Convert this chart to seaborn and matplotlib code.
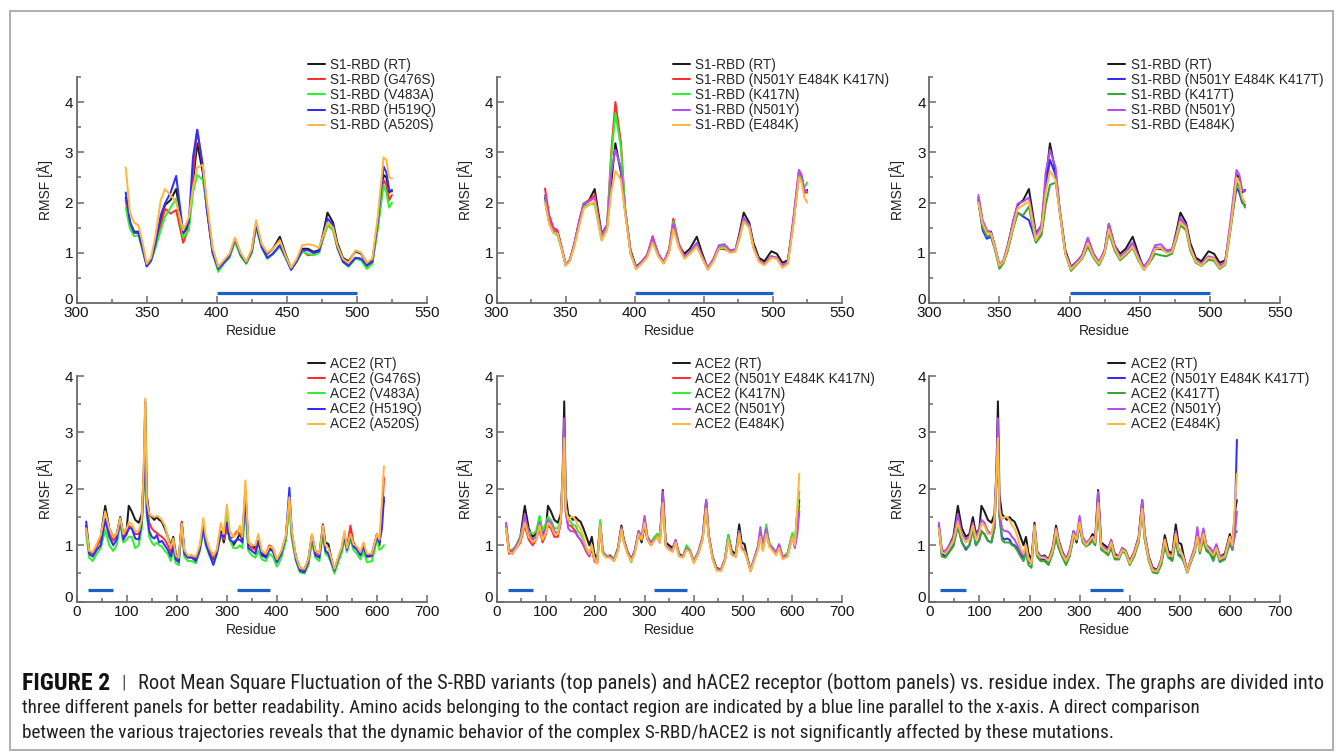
import numpy as np
import pandas as pd
import matplotlib
matplotlib.use("Agg")
import matplotlib.pyplot as plt
from matplotlib.patches import Rectangle
from matplotlib.ticker import MultipleLocator
from matplotlib import font_manager
import matplotlib.transforms as mtransforms
import seaborn as sns

# ---------------- DATA ----------------
X_TOP = [335, 338, 341, 344, 347, 350, 353, 356, 360, 363,
         367, 371, 376, 380, 383, 386, 390, 393, 397, 401,
         405, 409, 413, 417, 421, 425, 428, 432, 436, 440,
         445, 449, 453, 457, 461, 465, 469, 473, 476, 479,
         483, 486, 490, 494, 499, 503, 507, 511, 515, 519,
         521, 523, 525]

TOP_RT = [2.10, 1.60, 1.42, 1.42, 1.10, 0.75, 0.85, 1.15, 1.65, 1.95,
          2.05, 2.27, 1.38, 1.55, 2.40, 3.18, 2.60, 1.85, 1.05, 0.72,
          0.82, 0.95, 1.27, 0.98, 0.80, 1.05, 1.57, 1.15, 0.98, 1.08,
          1.32, 0.98, 0.68, 0.85, 1.08, 1.08, 1.02, 1.05, 1.40, 1.80,
          1.60, 1.20, 0.90, 0.83, 1.03, 0.98, 0.80, 0.85, 1.60, 2.55,
          2.50, 2.20, 2.25]
TOP_G476S = [2.05, 1.58, 1.40, 1.40, 1.08, 0.74, 0.84, 1.12, 1.55, 1.88,
             1.78, 1.85, 1.20, 1.50, 2.55, 3.45, 2.75, 1.85, 1.00, 0.70,
             0.80, 0.92, 1.25, 0.95, 0.80, 1.02, 1.55, 1.12, 0.90, 0.98,
             1.15, 0.92, 0.68, 0.85, 1.05, 0.95, 0.97, 1.02, 1.30, 1.55,
             1.45, 1.10, 0.85, 0.75, 0.90, 0.88, 0.72, 0.80, 1.55, 2.45,
             2.35, 2.05, 2.15]
TOP_V483A = [1.90, 1.48, 1.33, 1.35, 1.05, 0.73, 0.83, 1.08, 1.45, 1.72,
             1.90, 2.08, 1.30, 1.45, 2.20, 2.55, 2.45, 1.90, 1.00, 0.62,
             0.78, 0.90, 1.22, 0.93, 0.78, 1.00, 1.50, 1.10, 0.88, 0.97,
             1.12, 0.90, 0.66, 0.82, 1.02, 0.98, 0.95, 1.00, 1.30, 1.55,
             1.45, 1.10, 0.82, 0.72, 0.88, 0.85, 0.68, 0.78, 1.50, 2.35,
             2.20, 1.90, 2.00]
TOP_H519Q = [2.20, 1.62, 1.40, 1.40, 1.08, 0.73, 0.84, 1.15, 1.75, 1.98,
             2.20, 2.53, 1.40, 1.60, 2.90, 3.45, 2.70, 1.85, 1.00, 0.68,
             0.80, 0.93, 1.27, 0.96, 0.80, 1.03, 1.55, 1.12, 0.90, 0.98,
             1.15, 0.92, 0.66, 0.83, 1.05, 1.05, 1.00, 1.03, 1.35, 1.68,
             1.55, 1.12, 0.82, 0.74, 0.90, 0.88, 0.75, 0.82, 1.65, 2.72,
             2.60, 2.25, 2.22]
TOP_A520S = [2.70, 1.80, 1.60, 1.55, 1.20, 0.78, 0.90, 1.30, 2.05, 2.27,
             2.15, 2.00, 1.45, 1.70, 2.30, 2.70, 2.75, 2.00, 1.10, 0.72,
             0.85, 0.98, 1.30, 1.00, 0.82, 1.08, 1.65, 1.18, 1.00, 1.08,
             1.25, 0.95, 0.70, 0.88, 1.15, 1.17, 1.15, 1.10, 1.35, 1.60,
             1.50, 1.15, 0.88, 0.80, 1.05, 1.00, 0.80, 0.88, 1.75, 2.90,
             2.85, 2.50, 2.48]
TOP_TRIPLE_N = [2.28, 1.75, 1.50, 1.45, 1.12, 0.76, 0.86, 1.15, 1.65, 1.98,
                2.05, 2.15, 1.35, 1.55, 3.00, 4.00, 3.20, 1.90, 1.00, 0.68,
                0.82, 0.95, 1.33, 0.98, 0.80, 1.08, 1.68, 1.18, 0.92, 1.00,
                1.18, 0.92, 0.68, 0.85, 1.10, 1.12, 1.02, 1.05, 1.30, 1.68,
                1.52, 1.12, 0.85, 0.78, 0.93, 0.90, 0.72, 0.82, 1.65, 2.62,
                2.50, 2.20, 2.20]
TOP_K417N = [2.05, 1.60, 1.40, 1.35, 1.08, 0.76, 0.85, 1.12, 1.60, 1.92,
             1.97, 1.97, 1.25, 1.50, 2.90, 3.78, 3.10, 1.90, 1.00, 0.68,
             0.80, 0.93, 1.28, 0.96, 0.80, 1.05, 1.62, 1.15, 0.90, 0.98,
             1.15, 0.90, 0.68, 0.85, 1.12, 1.15, 1.05, 1.05, 1.30, 1.65,
             1.55, 1.12, 0.85, 0.76, 0.92, 0.88, 0.72, 0.80, 1.60, 2.55,
             2.45, 2.30, 2.40]
TOP_N501Y = [2.15, 1.65, 1.45, 1.40, 1.10, 0.76, 0.86, 1.15, 1.65, 1.98,
             2.02, 2.10, 1.35, 1.55, 2.60, 3.05, 2.70, 1.85, 1.00, 0.70,
             0.82, 0.95, 1.30, 0.98, 0.82, 1.05, 1.58, 1.15, 0.92, 1.02,
             1.20, 0.92, 0.70, 0.88, 1.15, 1.17, 1.05, 1.07, 1.35, 1.70,
             1.55, 1.12, 0.85, 0.78, 0.93, 0.90, 0.75, 0.82, 1.70, 2.65,
             2.55, 2.25, 2.22]
TOP_E484K = [2.00, 1.58, 1.40, 1.38, 1.08, 0.74, 0.83, 1.10, 1.55, 1.88,
             1.95, 2.02, 1.25, 1.45, 2.20, 2.63, 2.45, 1.80, 0.98, 0.67,
             0.78, 0.90, 1.20, 0.93, 0.78, 1.00, 1.47, 1.10, 0.88, 0.98,
             1.12, 0.88, 0.66, 0.82, 1.08, 1.10, 1.00, 1.02, 1.30, 1.62,
             1.50, 1.10, 0.82, 0.75, 0.90, 0.88, 0.70, 0.78, 1.55, 2.50,
             2.40, 2.10, 2.00]
TOP_TRIPLE_T = [2.05, 1.45, 1.28, 1.32, 1.05, 0.72, 0.82, 1.08, 1.55, 1.80,
                1.72, 1.65, 1.22, 1.45, 2.30, 2.85, 2.55, 1.80, 0.98, 0.66,
                0.80, 0.92, 1.28, 0.95, 0.80, 1.03, 1.45, 1.10, 0.88, 1.00,
                1.20, 0.92, 0.72, 0.86, 1.10, 1.10, 1.03, 1.05, 1.30, 1.65,
                1.50, 1.10, 0.82, 0.78, 0.90, 0.88, 0.72, 0.80, 1.55, 2.30,
                2.20, 2.00, 1.95]
TOP_K417T = [2.00, 1.50, 1.33, 1.35, 1.05, 0.68, 0.80, 1.05, 1.50, 1.78,
             1.75, 1.92, 1.20, 1.35, 1.95, 2.35, 2.40, 1.85, 1.00, 0.64,
             0.76, 0.88, 1.12, 0.90, 0.75, 0.98, 1.40, 1.05, 0.85, 0.95,
             1.10, 0.85, 0.66, 0.80, 0.98, 0.95, 0.93, 0.98, 1.25, 1.55,
             1.45, 1.05, 0.80, 0.74, 0.86, 0.84, 0.68, 0.76, 1.50, 2.40,
             2.30, 2.05, 1.90]

X_BOT = [19, 25, 32, 40, 48, 57, 65, 73, 80, 87,
         93, 100, 104, 110, 117, 124, 130, 134, 137, 140,
         145, 150, 155, 160, 165, 170, 176, 182, 188, 193,
         198, 204, 210, 215, 222, 230, 238, 246, 253, 258,
         265, 273, 280, 288, 294, 300, 306, 313, 320, 326,
         331, 337, 343, 350, 357, 363, 370, 378, 385, 392,
         400, 409, 418, 425, 430, 438, 446, 455, 463, 470,
         477, 485, 492, 497, 503, 508, 515, 522, 530, 535,
         540, 547, 553, 560, 567, 573, 580, 590, 600, 605,
         610, 614]

BOT_RT = [1.35, 0.90, 0.85, 1.00, 1.15, 1.70, 1.30, 1.15, 1.20, 1.50,
          1.20, 1.30, 1.70, 1.60, 1.45, 1.40, 1.55, 2.30, 3.55, 1.90,
          1.55, 1.50, 1.45, 1.50, 1.45, 1.42, 1.30, 1.15, 1.00, 1.15,
          0.85, 0.75, 1.40, 0.90, 0.80, 0.82, 0.75, 0.95, 1.35, 1.10,
          0.90, 0.75, 0.90, 1.25, 1.05, 1.35, 1.10, 1.00, 1.10, 1.20,
          1.10, 1.98, 1.05, 1.00, 0.95, 1.08, 0.85, 0.80, 0.95, 0.90,
          0.72, 0.88, 1.15, 1.80, 1.20, 0.80, 0.60, 0.57, 0.75, 1.18,
          0.90, 0.85, 1.37, 1.05, 1.02, 0.80, 0.55, 0.75, 0.95, 1.20,
          0.95, 1.25, 1.00, 0.95, 0.85, 1.00, 0.80, 0.85, 1.20, 1.00,
          1.60, 1.80]
BOT_G476S = [1.25, 0.88, 0.85, 0.98, 1.10, 1.42, 1.20, 1.08, 1.15, 1.45,
             1.15, 1.25, 1.35, 1.30, 1.20, 1.20, 1.40, 2.20, 3.00, 1.70,
             1.40, 1.30, 1.25, 1.22, 1.18, 1.15, 1.10, 1.00, 0.88, 1.05,
             0.80, 0.75, 1.42, 0.90, 0.80, 0.80, 0.78, 0.95, 1.30, 1.05,
             0.88, 0.78, 0.88, 1.20, 1.10, 1.30, 1.12, 1.15, 1.25, 1.20,
             1.15, 1.85, 1.00, 0.95, 0.92, 1.05, 0.88, 0.85, 1.00, 0.95,
             0.72, 0.88, 1.12, 1.75, 1.15, 0.78, 0.58, 0.55, 0.72, 1.15,
             0.85, 0.82, 1.25, 0.90, 0.85, 0.75, 0.55, 0.75, 0.95, 1.10,
             0.95, 1.35, 1.05, 0.95, 0.85, 0.95, 0.80, 0.80, 1.15, 1.05,
             1.50, 2.20]
BOT_V483A = [1.20, 0.78, 0.72, 0.85, 0.95, 1.27, 1.00, 0.90, 1.00, 1.40,
             1.05, 1.10, 1.15, 1.15, 0.95, 1.00, 1.30, 2.00, 3.00, 1.55,
             1.15, 1.05, 1.00, 1.05, 1.00, 0.98, 0.90, 0.85, 0.72, 0.90,
             0.68, 0.65, 1.30, 0.80, 0.72, 0.72, 0.68, 0.90, 1.25, 1.00,
             0.82, 0.68, 0.85, 1.20, 1.15, 1.55, 1.10, 0.95, 0.95, 1.00,
             0.95, 1.65, 0.90, 0.82, 0.78, 0.90, 0.75, 0.72, 0.85, 0.80,
             0.62, 0.78, 1.08, 1.70, 1.10, 0.72, 0.52, 0.50, 0.65, 1.05,
             0.78, 0.72, 1.20, 0.85, 0.80, 0.70, 0.50, 0.68, 0.88, 1.10,
             0.88, 1.10, 0.92, 0.85, 0.75, 0.90, 0.70, 0.72, 1.10, 0.92,
             0.95, 1.00]
BOT_H519Q = [1.42, 0.85, 0.80, 0.92, 1.00, 1.47, 1.15, 1.00, 1.10, 1.45,
             1.10, 1.20, 1.30, 1.30, 1.12, 1.10, 1.40, 2.10, 2.90, 1.60,
             1.25, 1.15, 1.12, 1.18, 1.05, 1.08, 1.00, 0.92, 0.80, 0.98,
             0.75, 0.70, 1.38, 0.85, 0.78, 0.78, 0.72, 0.92, 1.30, 1.02,
             0.85, 0.65, 0.85, 1.20, 1.15, 1.40, 1.10, 1.05, 1.10, 1.10,
             1.05, 1.85, 0.95, 0.90, 0.85, 1.05, 0.82, 0.78, 0.92, 0.90,
             0.70, 0.85, 1.15, 2.02, 1.20, 0.75, 0.55, 0.52, 0.70, 1.15,
             0.82, 0.78, 1.30, 0.90, 0.85, 0.72, 0.55, 0.75, 0.95, 1.15,
             0.92, 1.15, 0.98, 0.92, 0.82, 0.98, 0.80, 0.82, 1.15, 1.05,
             1.30, 1.85]
BOT_A520S = [1.30, 0.90, 0.88, 1.02, 1.18, 1.60, 1.30, 1.15, 1.20, 1.48,
             1.20, 1.30, 1.40, 1.38, 1.25, 1.25, 1.45, 2.40, 3.60, 1.80,
             1.55, 1.52, 1.50, 1.52, 1.50, 1.45, 1.35, 1.15, 0.95, 1.12,
             0.82, 0.78, 1.38, 0.92, 0.82, 0.82, 0.80, 1.00, 1.48, 1.15,
             0.95, 0.82, 0.92, 1.40, 1.20, 1.72, 1.25, 1.15, 1.20, 1.35,
             1.15, 2.15, 1.05, 1.00, 1.00, 1.20, 0.90, 0.85, 0.98, 0.95,
             0.75, 0.90, 1.18, 1.85, 1.25, 0.80, 0.60, 0.58, 0.75, 1.20,
             0.90, 0.85, 1.35, 1.00, 0.95, 0.80, 0.58, 0.78, 0.98, 1.25,
             0.95, 1.20, 1.02, 0.98, 0.88, 1.05, 0.85, 0.85, 1.20, 1.10,
             1.80, 2.40]
BOT_TRIPLE_N = [1.30, 0.85, 0.88, 0.95, 1.05, 1.35, 1.10, 1.00, 1.10, 1.30,
                1.05, 1.20, 1.35, 1.30, 1.15, 1.15, 1.40, 2.20, 3.00, 1.60,
                1.35, 1.35, 1.30, 1.25, 1.15, 1.10, 1.00, 0.88, 0.80, 0.95,
                0.72, 0.68, 1.35, 0.88, 0.80, 0.80, 0.72, 0.92, 1.32, 1.08,
                0.88, 0.75, 0.88, 1.20, 1.10, 1.35, 1.10, 1.02, 1.10, 1.18,
                1.05, 1.80, 1.00, 0.92, 0.90, 1.05, 0.82, 0.80, 0.95, 0.90,
                0.70, 0.85, 1.12, 1.72, 1.15, 0.78, 0.58, 0.55, 0.72, 1.12,
                0.85, 0.80, 1.20, 0.95, 0.92, 0.78, 0.55, 0.75, 0.95, 1.20,
                0.92, 1.30, 1.02, 0.92, 0.85, 0.98, 0.78, 0.82, 1.18, 1.00,
                1.45, 1.70]
BOT_K417N = [1.35, 0.92, 0.92, 1.00, 1.15, 1.45, 1.25, 1.20, 1.25, 1.52,
             1.25, 1.40, 1.50, 1.45, 1.30, 1.30, 1.45, 2.20, 3.00, 1.70,
             1.45, 1.42, 1.35, 1.35, 1.25, 1.20, 1.10, 0.95, 0.85, 1.00,
             0.78, 0.75, 1.45, 0.90, 0.82, 0.80, 0.75, 0.92, 1.30, 1.05,
             0.88, 0.70, 0.88, 1.25, 1.15, 1.45, 1.15, 1.05, 1.15, 1.20,
             1.10, 1.75, 1.00, 0.95, 0.92, 1.05, 0.82, 0.80, 1.00, 0.92,
             0.72, 0.88, 1.15, 1.72, 1.18, 0.78, 0.58, 0.56, 0.75, 1.18,
             0.85, 0.82, 1.25, 0.95, 0.90, 0.78, 0.55, 0.75, 0.98, 1.25,
             1.00, 1.37, 1.05, 0.95, 0.85, 1.00, 0.80, 0.85, 1.22, 1.05,
             1.60, 1.95]
BOT_N501Y = [1.40, 0.92, 0.90, 1.00, 1.12, 1.55, 1.20, 1.10, 1.15, 1.40,
             1.15, 1.30, 1.45, 1.40, 1.25, 1.20, 1.40, 2.30, 3.25, 1.60,
             1.30, 1.25, 1.25, 1.22, 1.15, 1.10, 1.00, 0.90, 0.82, 1.00,
             0.75, 0.70, 1.35, 0.88, 0.80, 0.80, 0.74, 0.92, 1.30, 1.08,
             0.88, 0.75, 0.90, 1.25, 1.15, 1.52, 1.15, 1.05, 1.10, 1.15,
             1.05, 1.95, 1.00, 0.95, 0.92, 1.10, 0.82, 0.80, 0.95, 0.90,
             0.70, 0.88, 1.15, 1.80, 1.20, 0.78, 0.58, 0.56, 0.75, 1.10,
             0.85, 0.80, 1.25, 0.95, 0.88, 0.78, 0.55, 0.75, 0.98, 1.32,
             0.98, 1.30, 1.00, 0.95, 0.88, 1.02, 0.80, 0.82, 1.15, 0.95,
             1.20, 1.60]
BOT_E484K = [1.30, 0.88, 0.85, 0.95, 1.08, 1.40, 1.15, 1.05, 1.10, 1.35,
             1.10, 1.22, 1.38, 1.35, 1.20, 1.20, 1.45, 2.20, 2.90, 1.65,
             1.45, 1.50, 1.50, 1.45, 1.35, 1.30, 1.15, 0.95, 0.85, 1.00,
             0.75, 0.68, 1.35, 0.85, 0.78, 0.78, 0.72, 0.90, 1.28, 1.05,
             0.85, 0.72, 0.85, 1.20, 1.10, 1.40, 1.10, 1.00, 1.08, 1.15,
             1.05, 1.75, 0.98, 0.92, 0.88, 1.05, 0.80, 0.78, 0.92, 0.88,
             0.68, 0.85, 1.10, 1.65, 1.15, 0.75, 0.55, 0.54, 0.72, 1.10,
             0.82, 0.80, 1.20, 0.92, 0.88, 0.75, 0.53, 0.72, 0.92, 1.15,
             0.90, 1.20, 0.98, 0.90, 0.82, 0.95, 0.75, 0.80, 1.15, 1.00,
             1.70, 2.27]
BOT_TRIPLE_T = [1.35, 0.85, 0.80, 0.90, 1.00, 1.35, 1.05, 0.92, 1.00, 1.30,
                1.00, 1.10, 1.25, 1.20, 1.08, 1.05, 1.30, 2.20, 2.95, 1.55,
                1.15, 1.10, 1.12, 1.10, 1.02, 1.00, 0.95, 0.85, 0.78, 0.92,
                0.70, 0.68, 1.35, 0.82, 0.75, 0.75, 0.70, 0.88, 1.15, 0.98,
                0.82, 0.70, 0.82, 1.15, 1.12, 1.35, 1.08, 1.00, 1.05, 1.10,
                1.00, 1.70, 0.95, 0.88, 0.85, 0.98, 0.78, 0.75, 0.90, 0.88,
                0.68, 0.82, 1.10, 1.70, 1.12, 0.75, 0.55, 0.52, 0.68, 1.00,
                0.80, 0.75, 1.15, 0.85, 0.80, 0.72, 0.52, 0.70, 0.90, 1.20,
                0.88, 1.15, 0.92, 0.88, 0.78, 0.95, 0.72, 0.78, 1.05, 0.92,
                1.50, 2.87]
BOT_K417T = [1.30, 0.80, 0.78, 0.88, 0.98, 1.35, 1.05, 0.95, 1.00, 1.28,
             1.00, 1.10, 1.25, 1.20, 1.08, 1.05, 1.30, 2.10, 2.80, 1.50,
             1.10, 1.05, 1.05, 1.05, 1.00, 0.98, 0.90, 0.80, 0.72, 0.88,
             0.65, 0.60, 1.30, 0.80, 0.72, 0.72, 0.65, 0.85, 1.12, 0.95,
             0.80, 0.65, 0.80, 1.15, 1.10, 1.35, 1.05, 0.98, 1.02, 1.08,
             1.00, 1.65, 0.92, 0.88, 0.82, 0.95, 0.75, 0.75, 0.90, 0.85,
             0.65, 0.80, 1.05, 1.60, 1.10, 0.72, 0.52, 0.50, 0.65, 0.98,
             0.78, 0.72, 1.10, 0.82, 0.78, 0.70, 0.52, 0.70, 0.88, 1.15,
             0.85, 1.10, 0.90, 0.85, 0.72, 0.90, 0.70, 0.75, 1.05, 0.92,
             1.20, 1.25]

CONTACT_TOP = [[400, 500]]
CONTACT_BOT = [[22, 73], [320, 387]]
CONTACT_Y = 0.2

PANEL_TOP = [
    [("S1-RBD (RT)", TOP_RT), ("S1-RBD (G476S)", TOP_G476S), ("S1-RBD (V483A)", TOP_V483A),
     ("S1-RBD (H519Q)", TOP_H519Q), ("S1-RBD (A520S)", TOP_A520S)],
    [("S1-RBD (RT)", TOP_RT), ("S1-RBD (N501Y E484K K417N)", TOP_TRIPLE_N), ("S1-RBD (K417N)", TOP_K417N),
     ("S1-RBD (N501Y)", TOP_N501Y), ("S1-RBD (E484K)", TOP_E484K)],
    [("S1-RBD (RT)", TOP_RT), ("S1-RBD (N501Y E484K K417T)", TOP_TRIPLE_T), ("S1-RBD (K417T)", TOP_K417T),
     ("S1-RBD (N501Y)", TOP_N501Y), ("S1-RBD (E484K)", TOP_E484K)],
]
PANEL_BOT = [
    [("ACE2 (RT)", BOT_RT), ("ACE2 (G476S)", BOT_G476S), ("ACE2 (V483A)", BOT_V483A),
     ("ACE2 (H519Q)", BOT_H519Q), ("ACE2 (A520S)", BOT_A520S)],
    [("ACE2 (RT)", BOT_RT), ("ACE2 (N501Y E484K K417N)", BOT_TRIPLE_N), ("ACE2 (K417N)", BOT_K417N),
     ("ACE2 (N501Y)", BOT_N501Y), ("ACE2 (E484K)", BOT_E484K)],
    [("ACE2 (RT)", BOT_RT), ("ACE2 (N501Y E484K K417T)", BOT_TRIPLE_T), ("ACE2 (K417T)", BOT_K417T),
     ("ACE2 (N501Y)", BOT_N501Y), ("ACE2 (E484K)", BOT_E484K)],
]

C_BLACK = "#1c1c1c"; C_RED = "#ff2d2d"; C_LIME = "#2ef02e"; C_BLUE = "#2f2fff"
C_ORANGE = "#ffb640"; C_PURPLE = "#b64cf2"; C_GREEN = "#36a836"
PANEL_COLORS = [
    [C_BLACK, C_RED, C_LIME, C_BLUE, C_ORANGE],
    [C_BLACK, C_RED, C_LIME, C_PURPLE, C_ORANGE],
    [C_BLACK, C_BLUE, C_GREEN, C_PURPLE, C_ORANGE],
]

CAPTION_HEAD = "FIGURE 2"
CAPTION = [
    "Root Mean Square Fluctuation of the S-RBD variants (top panels) and hACE2 receptor (bottom panels) vs. residue index. The graphs are divided into",
    "three different panels for better readability. Amino acids belonging to the contact region are indicated by a blue line parallel to the x-axis. A direct comparison",
    "between the various trajectories reveals that the dynamic behavior of the complex S-RBD/hACE2 is not significantly affected by these mutations.",
]

# ---------------- STYLE ----------------
sns.set_theme(style="white")
avail = {f.name for f in font_manager.fontManager.ttflist}
main_font = "Liberation Sans" if "Liberation Sans" in avail else "DejaVu Sans"
cap_font = next((f for f in ["Liberation Sans Narrow", "Roboto Condensed", "Liberation Sans"] if f in avail), "DejaVu Sans")
plt.rcParams["font.family"] = [main_font, "DejaVu Sans"]

W, H = 1342, 752
fig = plt.figure(figsize=(W / 100, H / 100), dpi=100)
fig.patch.set_facecolor("white")

AX_COLOR = "#6a6a6a"
lefts = [76.7, 496.7, 929.3]
widths = [350.3, 345.0, 350.7]
leg_x = [0.66, 0.511, 0.51]


def px_rect(l, b_px, w, h):
    return [l / W, 1 - b_px / H, w / W, h / H]


def draw_panel(ax, series, colors, xs, xlim, ylim, xmaj, xmin, contacts, legx):
    frames = []
    for name, vals in series:
        frames.append(pd.DataFrame({"Residue": xs, "RMSF": vals, "Series": name}))
    df = pd.concat(frames, ignore_index=True)
    names = [s[0] for s in series]
    pal = dict(zip(names, colors))
    sns.lineplot(data=df, x="Residue", y="RMSF", hue="Series", hue_order=names,
                 palette=pal, estimator=None, sort=True, linewidth=1.45, ax=ax)
    for ln in ax.lines:
        ln.set_solid_joinstyle("round")
    for seg in contacts:
        ax.plot(seg, [CONTACT_Y, CONTACT_Y], color="#1a62c6", lw=2.3, solid_capstyle="butt")
    ax.set_xlim(*xlim)
    ax.set_ylim(*ylim)
    ax.xaxis.set_major_locator(MultipleLocator(xmaj))
    ax.xaxis.set_minor_locator(MultipleLocator(xmin))
    ax.yaxis.set_major_locator(MultipleLocator(1))
    ax.yaxis.set_minor_locator(MultipleLocator(0.5))
    for s in ["top", "right"]:
        ax.spines[s].set_visible(False)
    for s in ["left", "bottom"]:
        ax.spines[s].set_color(AX_COLOR)
        ax.spines[s].set_linewidth(1.3)
    ax.tick_params(which="both", direction="in", color=AX_COLOR, width=1.1,
                   left=True, bottom=True, labelsize=11, labelcolor="#151515")
    ax.tick_params(axis="x", which="both", pad=2.5)
    ax.tick_params(axis="y", which="both", pad=2.5)
    ax.tick_params(which="major", length=5)
    ax.tick_params(which="minor", length=3)
    ax.set_xlabel("Residue", fontsize=10, color="#222")
    ax.set_ylabel("RMSF [Å]", fontsize=10, color="#222")
    ax.xaxis.label.set_va("center")
    ax.xaxis.set_label_coords(0.5, -0.124)
    ax.yaxis.set_label_coords(-0.068, 0.5)
    ax.set_facecolor("white")
    h, l = ax.get_legend_handles_labels()
    ax.legend(h, l, loc="upper left", bbox_to_anchor=(legx, 1.084), frameon=False,
              fontsize=9.8, borderpad=0, borderaxespad=0, labelspacing=0.08,
              handlelength=1.25, handletextpad=0.4)
    # lift the "0" y label a little so it sits above the first x label, as in the reference
    fig.canvas.draw()
    for lab in ax.get_yticklabels():
        if lab.get_text() in ("0", "0.0"):
            lab.set_transform(lab.get_transform() + mtransforms.ScaledTranslation(0, 5 / 100, fig.dpi_scale_trans))


for i in range(3):
    ax = fig.add_axes(px_rect(lefts[i], 303, widths[i], 226))
    draw_panel(ax, PANEL_TOP[i], PANEL_COLORS[i], X_TOP, (300, 550), (0, 4.5), 50, 25, CONTACT_TOP, leg_x[i])
    ax2 = fig.add_axes(px_rect(lefts[i], 601.7, widths[i], 225.7))
    draw_panel(ax2, PANEL_BOT[i], PANEL_COLORS[i], X_BOT, (0, 700), (0, 4), 100, 50, CONTACT_BOT, leg_x[i])

# frame around the figure
fig.add_artist(Rectangle((9.5 / W, 1 - 750 / H), (1333 - 9.5) / W, (750 - 10.5) / H,
                         transform=fig.transFigure, fill=False, ec="#a8a8a8", lw=1.3))

# ---------------- CAPTION ----------------
renderer = fig.canvas.get_renderer()
fam = [cap_font, "DejaVu Sans"]
Y_LINES = [683, 708, 733]
# (start px, end px) of each caption line in the reference
SPANS = [(138, 1318), (22, 1203), (22, 1115)]


def fitted_text(x0, x1, y, s, **kw):
    t = fig.text(x0 / W, 1 - y / H, s, fontsize=12, va="center", ha="left", family=fam, **kw)
    w = t.get_window_extent(renderer).width
    t.set_fontsize(12 * (x1 - x0) / w)
    return t


fitted_text(22, 110, Y_LINES[0], CAPTION_HEAD, fontweight="bold", color="#111")
fig.text(124 / W, 1 - Y_LINES[0] / H, "|", fontsize=14, va="center", ha="center",
         family=fam, color="#555")
for k in range(3):
    fitted_text(SPANS[k][0], SPANS[k][1], Y_LINES[k], CAPTION[k], color="#222")

fig.savefig("out.png", dpi=100, facecolor="white")
